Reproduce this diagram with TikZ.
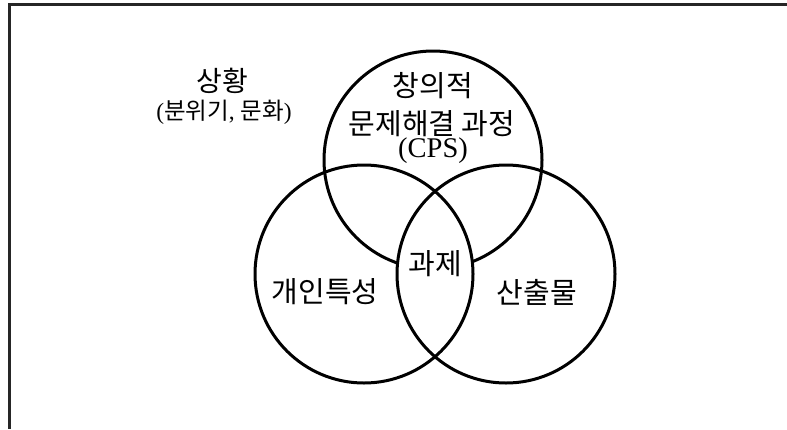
\documentclass[tikz,border=0pt]{standalone}
\usepackage{fontspec}
\setmainfont{Liberation Serif}
\newfontfamily\kr{Noto Sans CJK KR}
\begin{document}
\begin{tikzpicture}[x=1bp,y=-1bp,
  venn/.style={circle,draw=black,line width=3bp,minimum size=218bp,inner sep=0pt},
  big/.style={font=\fontsize{29bp}{33bp}\selectfont\kr,inner sep=0pt},
  mid/.style={font=\fontsize{28bp}{32bp}\selectfont\kr,inner sep=0pt},
  small/.style={font=\fontsize{23.5bp}{27bp}\selectfont,inner sep=0pt},
  frame/.style={line width=3bp,draw=black!85}]
\useasboundingbox (0,0) rectangle (787,429);
\coordinate (ftr) at (787,4);
\coordinate (ftl) at (9,4);
\coordinate (fbl) at (9,429);
\draw[frame] (ftr) -- (ftl) -- (fbl);
\node[venn] (ctop) at (433,160) {};
\begin{scope}
  \clip (364,274) circle (109bp);
  \clip (506,274) circle (109bp);
  \fill[white] (380,235) rectangle (490,295);
\end{scope}
\node[venn] (cleft) at (364,274) {};
\node[venn] (cright) at (506,274) {};
\node[mid] (sit) at (222,81) {상황};
\node[small] (sitsub) at (224,112) {({\kr 분위기}, {\kr 문화})};
\node[big] (cps1) at (433,86) {창의적};
\node[big] (cps2) at (432,124) {문제해결 과정};
\node[font=\fontsize{28.5bp}{32bp}\selectfont,inner sep=0pt] (cps3) at (433,151) {(CPS)};
\node[big] (task) at (435,264) {과제};
\node[big] (pers) at (325,292) {개인특성};
\node[big] (prod) at (537,292) {산출물};
\end{tikzpicture}
\end{document}
